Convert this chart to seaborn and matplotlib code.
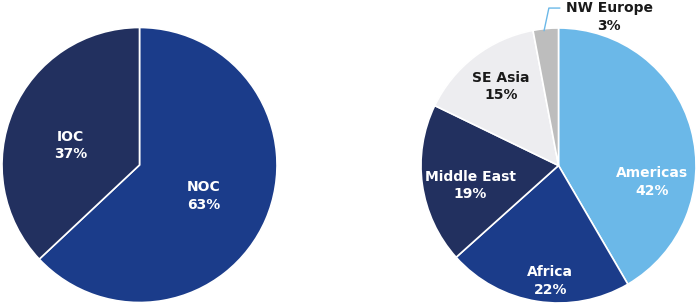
import matplotlib
matplotlib.use("Agg")
import matplotlib.pyplot as plt
import seaborn as sns

sns.set_theme(style="white")
plt.rcParams['font.family'] = ['DejaVu Sans']

# Data
owner_labels = ["NOC", "IOC"]
owner_values = [63, 37]
region_labels = ["Americas", "Africa", "Middle East", "SE Asia", "NW Europe"]
region_values = [42, 22, 19, 15, 3]

# Styles
owner_colors = ["#1B3C8A", "#22305F"]
region_colors = ["#6BB8E8", "#1B3C8A", "#22305F", "#EDEDF0", "#BDBDBD"]
owner_text_colors = ["white", "white"]
region_text_colors = ["white", "white", "white", "#1a1a1a", "#1a1a1a"]
owner_text_pos = [(0.47, -0.225), (-0.50, 0.14)]
region_text_pos = [(0.68, -0.12), (-0.06, -0.84), (-0.64, -0.145), (-0.42, 0.575), (0.37, 1.08)]

fig = plt.figure(figsize=(6.98, 3.06), dpi=100)
W, H = 698, 306
R = 137.5

def make_ax(cx, cy):
    ax = fig.add_axes([(cx - R) / W, (H - cy - R) / H, 2 * R / W, 2 * R / H])
    return ax

def finish(ax):
    ax.set_xlim(-1, 1)
    ax.set_ylim(-1, 1)
    ax.set_aspect("equal")
    ax.axis("off")

ax1 = make_ax(139.5, 165)
ax1.pie(owner_values, colors=owner_colors, startangle=90, counterclock=False,
        radius=1, wedgeprops=dict(edgecolor="white", linewidth=1.2))
finish(ax1)
for lab, v, (x, y), c in zip(owner_labels, owner_values, owner_text_pos, owner_text_colors):
    ax1.text(x, y, f"{lab}\n{v}%", ha="center", va="center", color=c,
             fontsize=10, fontweight="bold", linespacing=1.3)

ax2 = make_ax(558.5, 165.5)
ax2.pie(region_values, colors=region_colors, startangle=90, counterclock=False,
        radius=1, wedgeprops=dict(edgecolor="white", linewidth=1.2))
finish(ax2)
for lab, v, (x, y), c in zip(region_labels, region_values, region_text_pos, region_text_colors):
    ax2.text(x, y, f"{lab}\n{v}%", ha="center", va="center", color=c,
             fontsize=10, fontweight="bold", linespacing=1.3, clip_on=False)

# leader line for NW Europe
ax2.plot([-0.105, -0.07, 0.01], [0.98, 1.145, 1.145], color="#6BB8E8", lw=1, clip_on=False)

fig.savefig("out.png", dpi=100)
